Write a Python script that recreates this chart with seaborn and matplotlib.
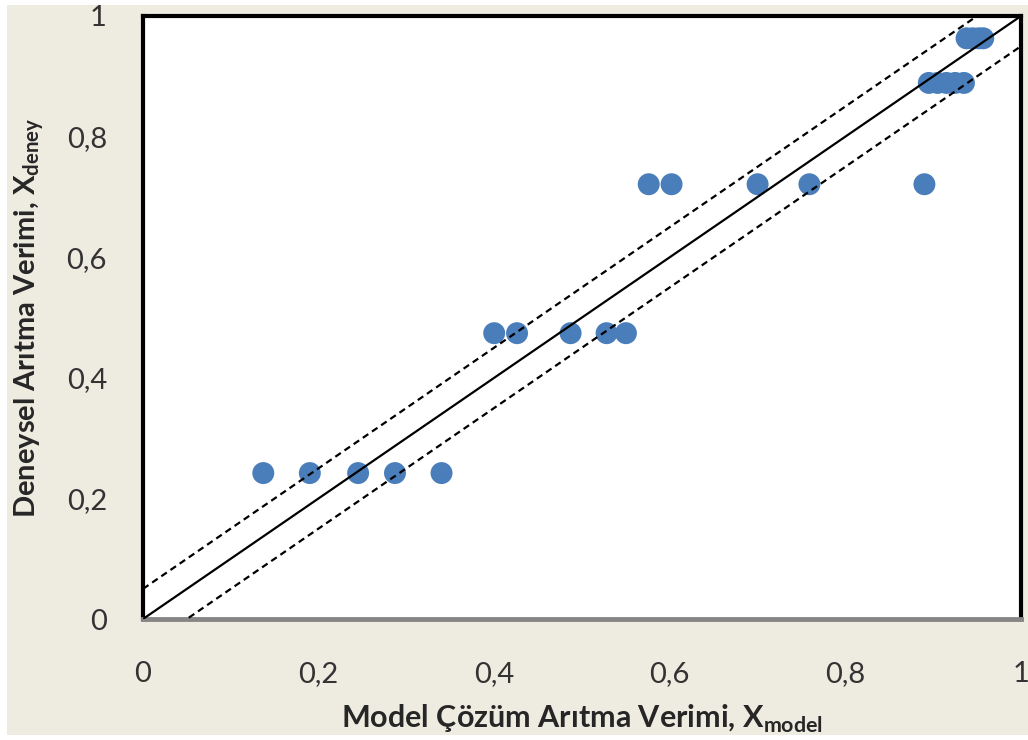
import matplotlib
matplotlib.use("Agg")
import matplotlib.pyplot as plt
import seaborn as sns
import pandas as pd
import numpy as np
from matplotlib.patches import Rectangle

# Data
x_model = [0.137, 0.190, 0.245, 0.287, 0.340,
           0.400, 0.426, 0.487, 0.528, 0.550,
           0.576, 0.602, 0.700, 0.759, 0.890,
           0.895, 0.905, 0.915, 0.925, 0.935,
           0.938, 0.945, 0.952, 0.957]
x_deney = [0.242, 0.242, 0.242, 0.242, 0.242,
           0.474, 0.474, 0.474, 0.474, 0.474,
           0.721, 0.721, 0.721, 0.721, 0.721,
           0.889, 0.889, 0.889, 0.889, 0.889,
           0.963, 0.963, 0.963, 0.963]
band = 0.05
ticks = [0, 0.2, 0.4, 0.6, 0.8, 1]
tick_labels = ["0", "0,2", "0,4", "0,6", "0,8", "1"]

df = pd.DataFrame({"model": x_model, "deney": x_deney})

sns.set_style("white")
plt.rcParams["font.family"] = ["Lato", "DejaVu Sans"]
plt.rcParams["mathtext.fontset"] = "custom"
plt.rcParams["mathtext.rm"] = "Lato:bold"
plt.rcParams["mathtext.bf"] = "Lato:bold"

fig = plt.figure(figsize=(10.28, 7.40), dpi=100, facecolor="white")
fig.patches.append(Rectangle((7 / 1028, 1 - 735 / 740), 1 - 7 / 1028, (735 - 5) / 740,
                             transform=fig.transFigure, facecolor="#EEEBE0",
                             edgecolor="none", zorder=-10))
ax = fig.add_axes([143 / 1028, 1 - 619 / 740, (1021 - 143) / 1028, (619 - 16) / 740])
ax.set_zorder(1)
ax.set_facecolor("white")

sns.scatterplot(data=df, x="model", y="deney", ax=ax, s=250, color="#4A7EBB",
                edgecolor="none", linewidth=0, zorder=2)

xx = np.array([0, 1.0])
ax.plot(xx, xx, color="black", lw=1.6, zorder=3)
ax.plot(xx, xx + band, color="black", lw=1.6, ls=(0, (3, 2)), zorder=3)
ax.plot(xx, xx - band, color="black", lw=1.6, ls=(0, (3, 2)), zorder=3)

ax.set_xlim(0, 1)
ax.set_ylim(0, 1)
ax.set_xticks(ticks)
ax.set_xticklabels(tick_labels)
ax.set_yticks(ticks)
ax.set_yticklabels(tick_labels)

for side in ["left", "top", "right"]:
    ax.spines[side].set_color("black")
    ax.spines[side].set_linewidth(3)
ax.spines["bottom"].set_color("#868686")
ax.spines["bottom"].set_linewidth(3.5)

ax.tick_params(axis="x", direction="out", length=8, width=3, color="#868686",
               pad=22, labelsize=21, labelcolor="#333333")
ax.tick_params(axis="y", direction="out", length=8, width=1, color="#868686",
               pad=18, labelsize=21, labelcolor="#333333")

ax.set_xlabel(r"Model Çözüm Arıtma Verimi, X$_{\mathbf{model}}$", fontsize=22,
              fontweight="bold", labelpad=12)
ax.set_ylabel(r"Deneysel Arıtma Verimi, X$_{\mathbf{deney}}$", fontsize=21,
              fontweight="bold", labelpad=14)

fig.savefig("out.png", dpi=100)
